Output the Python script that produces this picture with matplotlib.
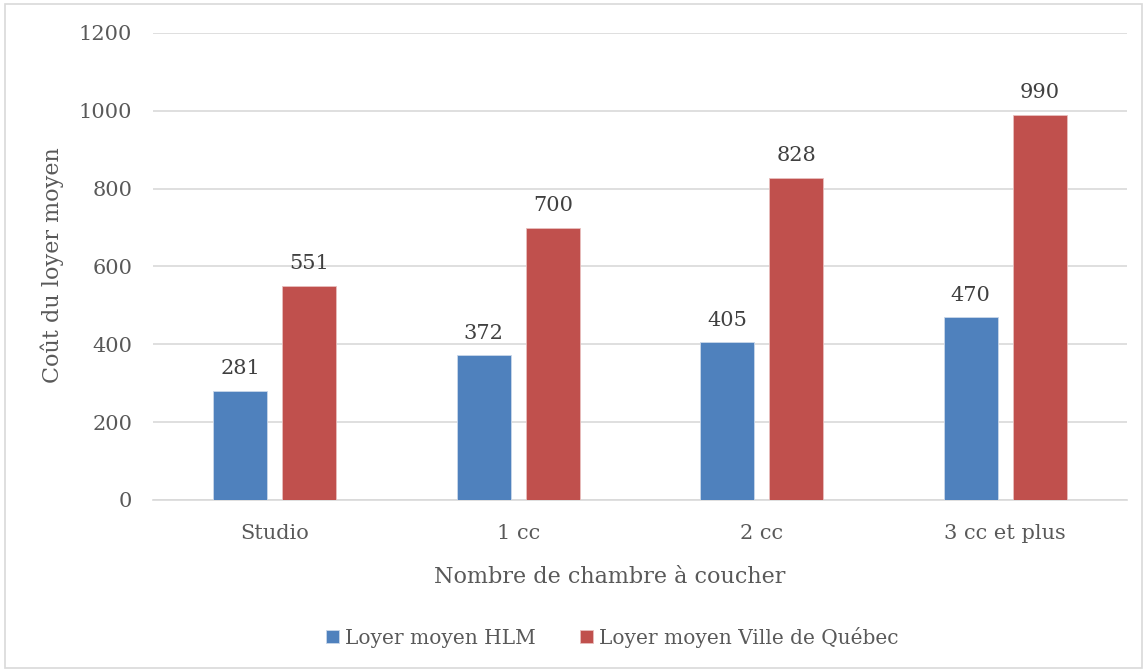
import numpy as np
import matplotlib.pyplot as plt
from matplotlib.patches import Rectangle

categories = ["Studio", "1 cc", "2 cc", "3 cc et plus"]
hlm = [281, 372, 405, 470]
ville = [551, 700, 828, 990]
series_names = ["Loyer moyen HLM", "Loyer moyen Ville de Québec"]

blue = "#4F81BD"
red = "#C0504D"
grey = "#595959"

plt.rcParams["font.family"] = ["DejaVu Serif"]

fig = plt.figure(figsize=(11.47, 6.72), dpi=100)
ax = fig.add_axes([0.1334, 0.256, 0.8492, 0.695])

x = np.arange(len(categories))
w = 0.222
off = 0.1417
b1 = ax.bar(x - off, hlm, w, color=blue, edgecolor="#C9D7EA", linewidth=0.6, zorder=3,
            label=series_names[0])
b2 = ax.bar(x + off, ville, w, color=red, edgecolor="#E8BEBD", linewidth=0.6, zorder=3,
            label=series_names[1])

for bars in (b1, b2):
    ax.bar_label(bars, padding=9, fontsize=15, color="#404040")

ax.set_xlim(-0.5, len(categories) - 0.5)
ax.set_ylim(0, 1200)
ax.set_yticks(range(0, 1201, 200))
ax.set_xticks(x)
ax.set_xticklabels(categories)
ax.yaxis.grid(True, color="#D9D9D9", linewidth=1.2, zorder=0)
ax.tick_params(axis="both", length=0, labelsize=15, labelcolor=grey)
ax.tick_params(axis="x", pad=17)
ax.tick_params(axis="y", pad=15)
for s in ["top", "right", "left"]:
    ax.spines[s].set_visible(False)
ax.spines["bottom"].set_color("#D9D9D9")
ax.spines["bottom"].set_linewidth(1.2)

ax.set_xlabel("Nombre de chambre à coucher", fontsize=16, color=grey, va="center")
ax.xaxis.set_label_coords(0.469, -0.165)
# y title placed directly in figure coords
fig.text(52 / 1147, 1 - 265 / 672, "Coût du loyer moyen", rotation=90,
         ha="center", va="center", fontsize=16, color=grey)

fig.legend(handles=[b1, b2], loc="center", bbox_to_anchor=(0.5336, 0.052), ncol=2,
           frameon=False, fontsize=14.5, labelcolor=grey, handlelength=0.65,
           handleheight=0.65, handletextpad=0.3, columnspacing=2.2)

fig.patches.append(Rectangle((0.004, 0.006), 0.992, 0.988, transform=fig.transFigure,
                             fill=False, edgecolor="#D9D9D9", linewidth=1.2))

fig.savefig("out.png", dpi=100)
